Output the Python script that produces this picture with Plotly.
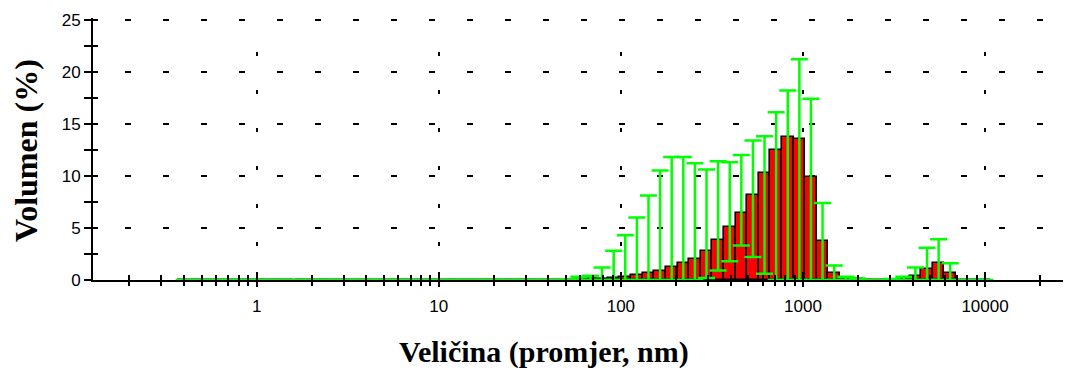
import numpy as np
import plotly.graph_objects as go

# Size classes (nm) of the distribution
sizes_nm = [0.4, 0.4632, 0.5365, 0.6213, 0.7195, 0.8332, 0.9649, 1.117, 1.294, 1.499,
            1.736, 2.01, 2.328, 2.696, 3.122, 3.615, 4.187, 4.849, 5.615, 6.503,
            7.531, 8.721, 10.1, 11.7, 13.54, 15.69, 18.17, 21.04, 24.36, 28.21,
            32.67, 37.84, 43.82, 50.75, 58.77, 68.06, 78.82, 91.28, 105.7, 122.4,
            141.8, 164.2, 190.1, 220.2, 255.0, 295.3, 342.0, 396.1, 458.7, 531.2,
            615.1, 712.4, 825.0, 955.4, 1106, 1281, 1484, 1718, 1990, 2305,
            2669, 3091, 3580, 4145, 4801, 5560, 6439, 7456, 8635, 10000]

# Mean volume (%)
volume_pct = [0, 0, 0, 0, 0, 0, 0, 0, 0, 0,
              0, 0, 0, 0, 0, 0, 0, 0, 0, 0,
              0, 0, 0, 0, 0, 0, 0, 0, 0, 0,
              0, 0, 0, 0, 0.02, 0.05, 0.1, 0.18, 0.3, 0.5,
              0.7, 0.9, 1.25, 1.62, 2.05, 2.75, 3.8, 5.1, 6.45, 8.2,
              10.3, 12.45, 13.7, 13.5, 9.9, 3.75, 0.64, 0.2, 0.08, 0,
              0, 0, 0.05, 0.35, 1.1, 1.6, 0.7, 0, 0, 0]

# Upper end of error bar (%)
upper_pct = [0, 0, 0, 0, 0, 0, 0, 0, 0, 0,
             0, 0, 0, 0, 0, 0, 0, 0, 0, 0,
             0, 0, 0, 0, 0, 0, 0, 0, 0, 0,
             0, 0, 0, 0.05, 0.3, 0.4, 1.2, 2.8, 4.3, 6.0,
             8.1, 10.5, 11.8, 11.8, 11.2, 10.6, 11.4, 11.3, 12.0, 13.4,
             13.8, 16.1, 18.2, 21.2, 17.4, 7.4, 1.4, 0.3, 0.15, 0,
             0, 0.1, 0.3, 1.2, 3.1, 3.9, 1.6, 0, 0, 0]

# Lower end of error bar (%)
lower_pct = [0, 0, 0, 0, 0, 0, 0, 0, 0, 0,
             0, 0, 0, 0, 0, 0, 0, 0, 0, 0,
             0, 0, 0, 0, 0, 0, 0, 0, 0, 0,
             0, 0, 0, 0, 0, 0, 0, 0, 0, 0,
             0, 0, 0, 0, 0, 0.2, 0.9, 1.8, 3.3, 2.2,
             0.6, 0, 0, 0, 0, 0, 0, 0, 0, 0,
             0, 0, 0, 0, 0, 0, 0, 0, 0, 0]

major_ticks = [1, 10, 100, 1000, 10000]
major_labels = ["1", "10", "100", "1000", "10000"]
minor_ticks = [m * d for d in [0.1, 1, 10, 100, 1000, 10000] for m in range(2, 10)]
y_ticks = [0, 5, 10, 15, 20, 25]

x_title = "Veličina (promjer, nm)"
y_title = "Volumen (%)"

W, H = 1065, 373
L, R, T, B = 93, 2, 18, 93
XR = [-0.899, 4.428]
YR = [0, 25.15]

lx = np.log10(sizes_nm)
vol = np.array(volume_pct)
up = np.array(upper_pct) - vol
dn = vol - np.array(lower_pct)

fig = go.Figure()
fig.add_trace(go.Bar(
    x=lx, y=vol, xaxis="x", yaxis="y",
    marker=dict(color="#ff0000", line=dict(color="#000000", width=1.6)),
    hoverinfo="skip", showlegend=False,
))
fig.add_trace(go.Scatter(
    x=lx, y=vol, xaxis="x2", yaxis="y2", mode="markers",
    marker=dict(size=1, opacity=0), cliponaxis=False,
    error_y=dict(type="data", symmetric=False, array=up, arrayminus=dn,
                 color="#00ff00", thickness=2.5, width=8.5),
    hoverinfo="skip", showlegend=False,
))

tickfont = dict(family="Liberation Sans, Arial", size=17, color="#000000")
common_x = dict(range=XR, type="linear", tickvals=np.log10(major_ticks).tolist(),
                zeroline=False, tickcolor="#000", tickwidth=2, automargin=False)
common_y = dict(range=YR, tickvals=y_ticks, zeroline=False, tickcolor="#000", tickwidth=2,
                automargin=False)

fig.update_layout(
    width=W, height=H,
    margin=dict(l=L, r=R, t=T, b=B, pad=0, autoexpand=False),
    paper_bgcolor="white", plot_bgcolor="white",
    bargap=0,
    xaxis=dict(**common_x, ticktext=major_labels, ticks="outside", ticklen=5,
               showline=True, linecolor="#000", linewidth=2, layer="below traces",
               showgrid=True, gridcolor="#000", gridwidth=2, griddash="0px,34px,4px,0px",
               tickfont=tickfont, ticklabelstandoff=5,
               minor=dict(tickvals=np.log10(minor_ticks).tolist(), ticks="outside",
                          ticklen=4, tickcolor="#000", tickwidth=2, showgrid=False)),
    yaxis=dict(**common_y, ticks="outside", ticklen=7,
               showline=True, linecolor="#000", linewidth=2,
               showgrid=True, gridcolor="#000", gridwidth=2, griddash="0px,32px,6px,0px",
               tickfont=tickfont,
               minor=dict(dtick=2.5, ticks="outside", ticklen=7, tickcolor="#000",
                          tickwidth=2, showgrid=False)),
    xaxis2=dict(**common_x, overlaying="x", anchor="y2", side="bottom",
                ticks="inside", ticklen=8, showticklabels=False, showgrid=False,
                showline=False,
                minor=dict(tickvals=np.log10(minor_ticks).tolist(), ticks="inside",
                           ticklen=5, tickcolor="#000", tickwidth=2, showgrid=False)),
    yaxis2=dict(**common_y, overlaying="y", anchor="x2", side="left",
                ticks="inside", ticklen=5, showticklabels=False, showgrid=False,
                showline=False,
                minor=dict(dtick=2.5, ticks="inside", ticklen=5, tickcolor="#000",
                           tickwidth=2, showgrid=False)),
)

pw = W - L - R
ph = H - T - B
y0px = H - B
fig.add_annotation(text="<b>" + x_title + "</b>", xref="paper", yref="paper",
                   x=(544 - L) / pw, y=(y0px - 352) / ph, showarrow=False,
                   xanchor="center", yanchor="middle",
                   font=dict(family="Liberation Serif, Times New Roman", size=30, color="#000000"))
fig.add_annotation(text="<b>" + y_title + "</b>", xref="paper", yref="paper",
                   x=(26 - L) / pw, y=(y0px - 151) / ph, showarrow=False,
                   xanchor="center", yanchor="middle", textangle=-90,
                   font=dict(family="Liberation Serif, Times New Roman", size=32, color="#000000"))

fig.write_html("out.html", config={"displayModeBar": False},
               post_script="document.body.style.margin='0px';document.body.style.overflow='hidden';")
